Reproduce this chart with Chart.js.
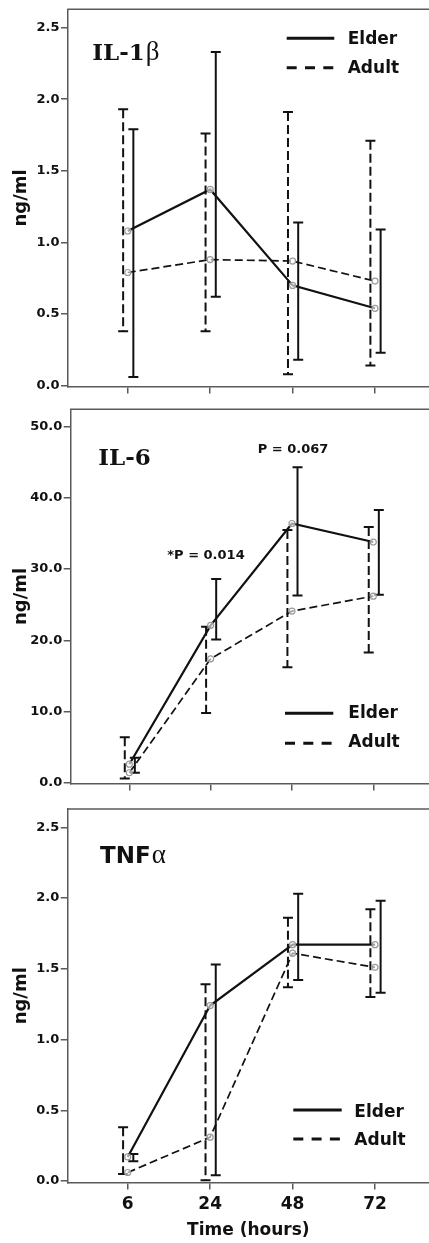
<!DOCTYPE html>
<html><head><meta charset="utf-8">
<script src="https://cdn.jsdelivr.net/npm/chart.js@4.4.1/dist/chart.umd.min.js"></script>
<style>
html,body{margin:0;padding:0;background:#fff;}
#wrap{position:relative;width:429px;height:1243px;overflow:hidden;background:#fff;}
canvas{position:absolute;left:0;display:block;}
</style></head><body>
<div id="wrap">
<canvas id="c1" width="429" height="400" style="top:0px"></canvas>
<canvas id="c2" width="429" height="395" style="top:400px"></canvas>
<canvas id="c3" width="429" height="448" style="top:795px"></canvas>
</div>
<script>
const categories = ['6', '24', '48', '72'];
const seriesNames = ['Elder', 'Adult'];

// IL-1beta (ng/ml)
const il1Elder     = [1.08, 1.37, 0.70, 0.54];
const il1ElderHigh = [1.79, 2.33, 1.14, 1.09];
const il1ElderLow  = [0.06, 0.62, 0.18, 0.23];
const il1Adult     = [0.79, 0.88, 0.87, 0.73];
const il1AdultHigh = [1.93, 1.76, 1.91, 1.71];
const il1AdultLow  = [0.38, 0.38, 0.08, 0.14];
const il1Ticks  = [0, 0.5, 1.0, 1.5, 2.0, 2.5];
const il1Labels = ['0.0', '0.5', '1.0', '1.5', '2.0', '2.5'];

// IL-6 (ng/ml)
const il6Elder     = [2.6, 22.1, 36.4, 33.8];
const il6ElderHigh = [3.5, 28.6, 44.3, 38.3];
const il6ElderLow  = [1.4, 20.1, 26.3, 26.4];
const il6Adult     = [1.4, 17.4, 24.1, 26.2];
const il6AdultHigh = [6.4, 21.9, 35.5, 35.9];
const il6AdultLow  = [0.6, 9.8, 16.2, 18.3];
const il6Ticks  = [0, 10, 20, 30, 40, 50];
const il6Labels = ['0.0', '10.0', '20.0', '30.0', '40.0', '50.0'];
const il6Notes  = ['*P = 0.014', 'P = 0.067'];

// TNFalpha (ng/ml)
const tnfElder     = [0.17, 1.24, 1.67, 1.67];
const tnfElderHigh = [0.19, 1.53, 2.03, 1.98];
const tnfElderLow  = [0.14, 0.04, 1.42, 1.33];
const tnfAdult     = [0.06, 0.31, 1.61, 1.51];
const tnfAdultHigh = [0.38, 1.39, 1.86, 1.92];
const tnfAdultLow  = [0.05, 0.005, 1.37, 1.30];
const tnfTicks  = [0, 0.5, 1.0, 1.5, 2.0, 2.5];
const tnfLabels = ['0.0', '0.5', '1.0', '1.5', '2.0', '2.5'];

const INK = '#111';
const FRAME = '#5a5a5a';

const errorBars = {
  id: 'errorBars',
  beforeDatasetsDraw(chart) {
    const ctx = chart.ctx, xs = chart.scales.x, ys = chart.scales.y;
    chart.data.datasets.forEach(d => {
      if (!d.errHigh) return;
      ctx.save();
      ctx.strokeStyle = INK;
      ctx.lineWidth = 2;
      d.data.forEach((p, i) => {
        const px = xs.getPixelForValue(p.x + d.errOffset);
        const yh = ys.getPixelForValue(d.errHigh[i]);
        const yl = ys.getPixelForValue(d.errLow[i]);
        ctx.setLineDash(d.errDash);
        ctx.beginPath(); ctx.moveTo(px, yh); ctx.lineTo(px, yl); ctx.stroke();
        ctx.setLineDash([]);
        const c = 5;
        ctx.beginPath();
        ctx.moveTo(px - c, yh); ctx.lineTo(px + c, yh);
        ctx.moveTo(px - c, yl); ctx.lineTo(px + c, yl);
        ctx.stroke();
      });
      ctx.restore();
    });
  }
};

const decor = {
  id: 'decor',
  afterDraw(chart, args, o) {
    const ctx = chart.ctx, a = chart.chartArea;
    ctx.save();
    // top frame line
    ctx.strokeStyle = FRAME; ctx.lineWidth = 1.5;
    ctx.beginPath(); ctx.moveTo(a.left - 0.75, a.top); ctx.lineTo(a.right, a.top); ctx.stroke();
    // legend
    const L = o.legend;
    ctx.strokeStyle = INK; ctx.lineWidth = 3;
    ctx.setLineDash([]);
    ctx.beginPath(); ctx.moveTo(L.x1, L.y1); ctx.lineTo(L.x2, L.y1); ctx.stroke();
    ctx.setLineDash([10, 8.3]);
    ctx.beginPath(); ctx.moveTo(L.x1, L.y2); ctx.lineTo(L.x2 + 2, L.y2); ctx.stroke();
    ctx.setLineDash([]);
    ctx.fillStyle = INK;
    ctx.font = 'bold 17px "DejaVu Sans"';
    ctx.textAlign = 'left'; ctx.textBaseline = 'alphabetic';
    ctx.fillText(seriesNames[0], L.tx, L.b1);
    ctx.fillText(seriesNames[1], L.tx, L.b2);
    // title
    const T = o.title;
    let x = T.x;
    T.parts.forEach(p => {
      ctx.font = p.font;
      ctx.fillText(p.text, x, T.b);
      x += ctx.measureText(p.text).width + (p.gap || 0);
    });
    // notes
    (o.notes || []).forEach(n => {
      ctx.font = 'bold 13px "DejaVu Sans"';
      ctx.textAlign = 'center';
      ctx.fillText(n.text, n.x, n.b);
    });
    ctx.restore();
  }
};

function series(idx, vals, hi, lo, dashed, off) {
  return {
    label: seriesNames[idx],
    data: vals.map((v, i) => ({ x: i + 1, y: v })),
    borderColor: INK,
    borderWidth: dashed ? 1.7 : 2.2,
    borderDash: dashed ? [8, 4] : [],
    pointRadius: 3,
    pointBorderColor: '#9a9a9a',
    pointBackgroundColor: 'rgba(255,255,255,0.6)',
    pointBorderWidth: 1.2,
    tension: 0,
    clip: false,
    errHigh: hi, errLow: lo, errOffset: off,
    errDash: dashed ? [9, 4] : []
  };
}

function makeChart(id, p) {
  const tickFont = { family: 'DejaVu Sans', weight: 'bold', size: 13 };
  return new Chart(document.getElementById(id), {
    type: 'line',
    data: {
      datasets: [
        series(0, p.elder, p.elderHigh, p.elderLow, false, 0.068),
        series(1, p.adult, p.adultHigh, p.adultLow, true, -0.056)
      ]
    },
    options: {
      responsive: false,
      animation: false,
      layout: { autoPadding: false, padding: { top: p.top, left: 0, right: 0, bottom: 0 } },
      plugins: {
        legend: { display: false },
        tooltip: { enabled: false },
        decor: p.decor
      },
      scales: {
        x: {
          type: 'linear', min: p.xmin, max: p.xmax,
          afterBuildTicks: s => { s.ticks = categories.map((c, i) => ({ value: i + 1 })); },
          afterFit: s => { s.height = p.xh; },
          ticks: {
            display: p.showX,
            callback: (v, i) => categories[i],
            font: { family: 'DejaVu Sans', weight: 'bold', size: 17 },
            color: INK, padding: 4.6, maxRotation: 0, autoSkip: false
          },
          grid: { drawOnChartArea: false, drawTicks: true, tickLength: 7, color: FRAME, lineWidth: 1.5 },
          border: { display: true, color: FRAME, width: 1.5 },
          title: {
            display: p.showX, text: 'Time (hours)',
            font: { family: 'DejaVu Sans', weight: 'bold', size: 17 },
            color: INK, padding: { top: 0, bottom: 2 }
          }
        },
        y: {
          type: 'linear', min: p.ymin, max: p.ymax,
          afterBuildTicks: s => { s.ticks = p.ticks.map(v => ({ value: v })); },
          afterFit: s => { s.width = p.yw; },
          ticks: { callback: (v, i) => p.labels[i], font: tickFont, color: INK, padding: 1.5 },
          grid: { drawOnChartArea: false, drawTicks: true, tickLength: 7, color: FRAME, lineWidth: 1.5 },
          border: { display: true, color: FRAME, width: 1.5 },
          title: {
            display: true, text: 'ng/ml',
            font: { family: 'DejaVu Sans', weight: 'bold', size: 18 },
            color: INK, padding: { top: 11, bottom: 0 }
          }
        }
      }
    },
    plugins: [errorBars, decor]
  });
}

makeChart('c1', {
  elder: il1Elder, elderHigh: il1ElderHigh, elderLow: il1ElderLow,
  adult: il1Adult, adultHigh: il1AdultHigh, adultLow: il1AdultLow,
  ticks: il1Ticks, labels: il1Labels,
  ymin: -0.006, ymax: 2.628, xmin: 0.275, xmax: 4.655,
  top: 9.3, xh: 13.5, yw: 68, showX: false,
  decor: {
    legend: { x1: 286.7, x2: 334.3, y1: 38.3, y2: 67.7, tx: 347.7, b1: 44, b2: 73.3 },
    title: { x: 92.3, b: 60, parts: [
      { text: 'IL-1', font: 'bold 23px "DejaVu Serif"', gap: 1 },
      { text: '\u03B2', font: '27px "Liberation Serif"' }] }
  }
});

makeChart('c2', {
  elder: il6Elder, elderHigh: il6ElderHigh, elderLow: il6ElderLow,
  adult: il6Adult, adultHigh: il6AdultHigh, adultLow: il6AdultLow,
  ticks: il6Ticks, labels: il6Labels,
  ymin: -0.11, ymax: 52.44, xmin: 0.279, xmax: 4.685,
  top: 8.3, xh: 11.5, yw: 70.7, showX: false,
  decor: {
    legend: { x1: 285, x2: 333.3, y1: 313.3, y2: 343.3, tx: 348.3, b1: 318.3, b2: 347.3 },
    title: { x: 98.3, b: 65, parts: [{ text: 'IL-6', font: 'bold 23px "DejaVu Serif"' }] },
    notes: [{ text: il6Notes[0], x: 206, b: 159.3 }, { text: il6Notes[1], x: 293, b: 52.7 }]
  }
});

makeChart('c3', {
  elder: tnfElder, elderHigh: tnfElderHigh, elderLow: tnfElderLow,
  adult: tnfAdult, adultHigh: tnfAdultHigh, adultLow: tnfAdultLow,
  ticks: tnfTicks, labels: tnfLabels,
  ymin: -0.0106, ymax: 2.629, xmin: 0.272, xmax: 4.655,
  top: 14, xh: 60.5, yw: 67.7, showX: true,
  decor: {
    legend: { x1: 293.3, x2: 341.7, y1: 315, y2: 344, tx: 354.3, b1: 321.7, b2: 350 },
    title: { x: 100, b: 68.3, parts: [
      { text: 'TNF', font: 'bold 23px "DejaVu Sans"', gap: 1 },
      { text: '\u03B1', font: '27px "Liberation Serif"' }] }
  }
});
</script>
</body></html>
